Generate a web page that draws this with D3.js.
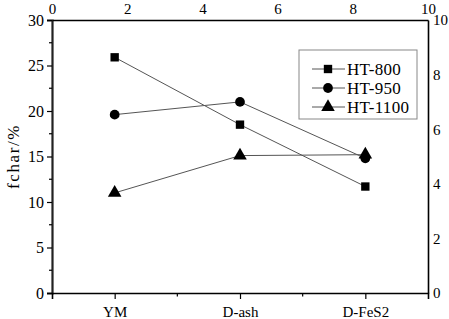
<!DOCTYPE html>
<html>
<head>
<meta charset="utf-8">
<script src="https://cdn.jsdelivr.net/npm/d3@7"></script>
<style>
  body { margin: 0; background: #fff; }
</style>
</head>
<body>
<svg id="chart" width="449" height="319"></svg>
<script>
// donnees
const categories = ['YM', 'D-ash', 'D-FeS2'];
const ht800 = [25.9, 18.5, 11.7];
const ht950 = [19.6, 21.0, 14.8];
const ht1100 = [11.0, 15.1, 15.2];
const seriesNames = ['HT-800', 'HT-950', 'HT-1100'];
const leftTicks = [0, 5, 10, 15, 20, 25, 30];
const leftMinor = [2.5, 7.5, 12.5, 17.5, 22.5, 27.5];
const sideTicks = [0, 2, 4, 6, 8, 10];

const serif = '"Liberation Serif", "Times New Roman", Times, serif';

const svg = d3.select('#chart');
const plotLeft = 52, plotRight = 428, plotTop = 20, plotBottom = 293;

const x = d3.scaleLinear().domain([0.5, 3.5]).range([plotLeft, plotRight]);
const y = d3.scaleLinear().domain([0, 30]).range([plotBottom, plotTop]);
const x2 = d3.scaleLinear().domain([0, 10]).range([plotLeft, plotRight]);
const y2 = d3.scaleLinear().domain([0, 10]).range([plotBottom, plotTop]);

// axe gauche
const gl = svg.append('g').attr('transform', `translate(${plotLeft},0)`);
gl.call(d3.axisLeft(y).tickValues(leftTicks).tickSize(5).tickPadding(3))
  .call(g => g.select('.domain').attr('stroke-width', 2.2).attr('stroke', '#222'));
gl.selectAll('.tick line').attr('stroke-width', 1.2);
gl.selectAll('.tick text').style('font-size', '16px');
gl.append('g').selectAll('line').data(leftMinor).join('line')
  .attr('x1', -3).attr('x2', 0)
  .attr('y1', d => y(d)).attr('y2', d => y(d))
  .attr('stroke', '#000').attr('stroke-width', 1.2);

// axe bas
const gb = svg.append('g').attr('transform', `translate(0,${plotBottom})`);
gb.call(d3.axisBottom(x).tickValues([1, 2, 3]).tickFormat((d, i) => categories[i]).tickSize(6).tickPadding(7))
  .call(g => g.select('.domain').attr('stroke-width', 1.6));
gb.selectAll('.tick line').attr('stroke-width', 1.2);
gb.selectAll('.tick text').style('font-size', '15px');
gb.append('g').selectAll('line').data([1.5, 2.5]).join('line')
  .attr('x1', d => x(d)).attr('x2', d => x(d))
  .attr('y1', 0).attr('y2', 3.5)
  .attr('stroke', '#000').attr('stroke-width', 1.2);

// axe haut
const gt = svg.append('g').attr('transform', `translate(0,${plotTop})`);
gt.call(d3.axisTop(x2).tickValues(sideTicks).tickSize(0).tickPadding(6))
  .call(g => g.select('.domain').attr('stroke-width', 1.6));
gt.selectAll('.tick text').style('font-size', '15px');

// axe droit
const gr = svg.append('g').attr('transform', `translate(${plotRight},0)`);
gr.call(d3.axisRight(y2).tickValues(sideTicks).tickSize(0).tickPadding(5))
  .call(g => g.select('.domain').attr('stroke-width', 1.6));
gr.selectAll('.tick text').style('font-size', '15px');

// titre axe Y
svg.append('text')
   .attr('transform', `translate(13,${(plotTop + plotBottom) / 2}) rotate(-90)`)
   .attr('text-anchor', 'middle')
   .attr('dy', '0.35em')
   .style('font-size', '17px')
   .style('letter-spacing', '1.6px')
   .text('fchar/%');

const line = d3.line().x((d, i) => x(i + 1)).y(d => y(d));
const allSeries = [ht800, ht950, ht1100];
const shapes = [d3.symbolSquare, d3.symbolCircle, d3.symbolTriangle];
const sizes = [70, 75, 80];

allSeries.forEach((s, k) => {
    svg.append('path')
       .datum(s)
       .attr('fill', 'none')
       .attr('stroke', '#555')
       .attr('stroke-width', 1)
       .attr('d', line);
});
allSeries.forEach((s, k) => {
    svg.append('g').selectAll('path').data(s).join('path')
       .attr('transform', (d, i) => `translate(${x(i + 1)},${y(d)})`)
       .attr('d', d3.symbol().type(shapes[k]).size(sizes[k]))
       .attr('fill', '#000');
});

// legende
const legend = svg.append('g').attr('transform', 'translate(299,50)');
legend.append('rect')
      .attr('x', 0).attr('y', 0)
      .attr('width', 118).attr('height', 69)
      .attr('fill', '#fff')
      .attr('stroke', '#888')
      .attr('stroke-width', 1);
seriesNames.forEach((name, k) => {
    const ry = 19 + k * 19;
    legend.append('line')
          .attr('x1', 13).attr('x2', 46)
          .attr('y1', ry).attr('y2', ry)
          .attr('stroke', '#555').attr('stroke-width', 1);
    legend.append('path')
          .attr('transform', `translate(29,${ry})`)
          .attr('d', d3.symbol().type(shapes[k]).size(sizes[k]))
          .attr('fill', '#000');
    legend.append('text')
          .attr('x', 48).attr('y', ry)
          .attr('dy', '0.35em')
          .style('font-size', '17px')
          .style('letter-spacing', '0.3px')
          .text(name);
});

// police serif partout
svg.selectAll('text')
   .style('font-family', serif)
   .attr('fill', '#000');
</script>
</body>
</html>
